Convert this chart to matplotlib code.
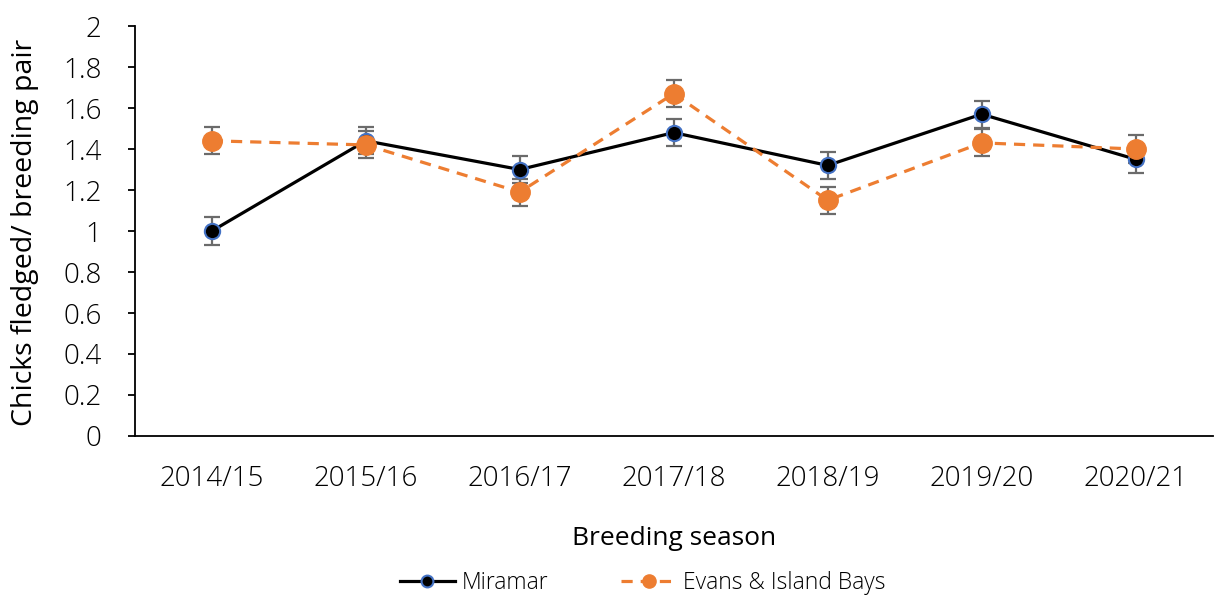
import matplotlib
matplotlib.use("Agg")
import matplotlib.pyplot as plt

seasons = ["2014/15", "2015/16", "2016/17", "2017/18", "2018/19", "2019/20", "2020/21"]
miramar = [1.00, 1.44, 1.30, 1.48, 1.32, 1.57, 1.35]
evans = [1.44, 1.42, 1.19, 1.67, 1.15, 1.43, 1.40]
miramar_err = [0.066] * 7
evans_err = [0.066] * 7

plt.rcParams['font.family'] = ['Open Sans', 'DejaVu Sans']
plt.rcParams['font.weight'] = 'light'

fig = plt.figure(figsize=(12.15, 5.97), dpi=100)
ax = fig.add_axes([0.111, 0.2697, 0.887, 0.6867])

x = list(range(len(seasons)))
err_col = '#6b6b6b'
ax.errorbar(x, miramar, yerr=miramar_err, fmt='none', ecolor=err_col, elinewidth=1.6, capsize=5.5, capthick=1.6, zorder=2)
ax.errorbar(x, evans, yerr=evans_err, fmt='none', ecolor=err_col, elinewidth=1.6, capsize=5.5, capthick=1.6, zorder=2)
ax.plot(x, miramar, color='black', lw=2.3, marker='o', markersize=11, markerfacecolor='black',
        markeredgecolor='#4472C4', markeredgewidth=1.5, label='Miramar', zorder=3)
ax.plot(x, evans, color='#ED7D31', lw=2.3, ls=(0, (3.5, 2.5)), marker='o', markersize=14,
        markerfacecolor='#ED7D31', markeredgecolor='#ED7D31', label='Evans & Island Bays', zorder=4)

ax.set_xlim(-0.5, 6.5)
ax.set_ylim(0, 2)
ax.set_yticks([0, 0.2, 0.4, 0.6, 0.8, 1, 1.2, 1.4, 1.6, 1.8, 2])
ax.set_yticklabels(['0', '0.2', '0.4', '0.6', '0.8', '1', '1.2', '1.4', '1.6', '1.8', '2'])
ax.set_xticks(x)
ax.set_xticklabels(seasons)
ax.tick_params(axis='y', length=5, width=1.3, labelsize=20, pad=19, color='black')
ax.tick_params(axis='x', length=0, labelsize=20, pad=21)
for s in ['top', 'right']:
    ax.spines[s].set_visible(False)
for s in ['left', 'bottom']:
    ax.spines[s].set_linewidth(1.3)
ax.set_xlabel('Breeding season', fontsize=19, labelpad=24)
ax.set_ylabel('Chicks fledged/ breeding pair', fontsize=20.5)
ax.yaxis.set_label_coords(-0.089, 0.497)

leg = fig.legend(loc='center', bbox_to_anchor=(0.529, 0.023), ncol=2, frameon=False,
                 fontsize=16.5, handlelength=2.4, handletextpad=0.3, columnspacing=3.2)
leg.legend_handles[0].set_markersize(8.5)
leg.legend_handles[1].set_markersize(9.5)
fig.savefig('out.png', dpi=100)
